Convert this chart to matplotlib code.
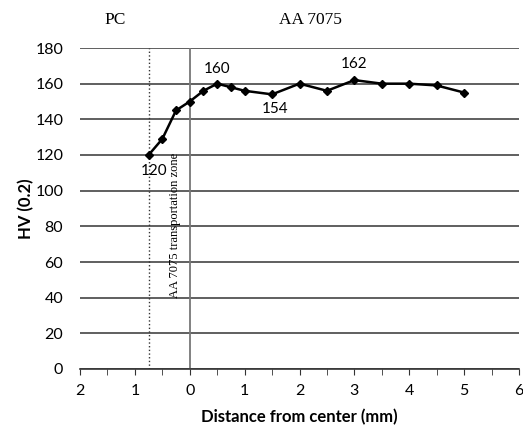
import matplotlib.pyplot as plt
from matplotlib.ticker import FuncFormatter, MultipleLocator

# distance from center (mm), negative side = PC
distance = [-0.75, -0.5, -0.25, 0, 0.25, 0.5, 0.75, 1, 1.5, 2, 2.5, 3, 3.5, 4, 4.5, 5]
hardness = [120, 129, 145, 150, 156, 160, 158, 156, 154, 160, 156, 162, 160, 160, 159, 155]

# labelled points: (index, label, offset in px)
labels = [(0, "120", (6, -16)), (5, "160", (0, 15)), (8, "154", (3, -15)), (11, "162", (0, 16))]

sans = "Lato"
serif = "Liberation Serif"

fig = plt.figure(figsize=(5.23, 4.33), dpi=100)
ax = fig.add_axes([80 / 523, 1 - 369 / 433, 439 / 523, 321 / 433])

ax.set_xlim(-2, 6)
ax.set_ylim(0, 180)

# horizontal grid like the excel chart
ax.yaxis.set_major_locator(MultipleLocator(20))
ax.grid(axis="y", color="#444444", linewidth=1.2)
ax.set_axisbelow(True)

for s in ["top", "right", "left"]:
    ax.spines[s].set_visible(False)
ax.spines["bottom"].set_color("#333333")
ax.spines["bottom"].set_linewidth(1.2)

ax.xaxis.set_major_locator(MultipleLocator(1))
ax.xaxis.set_minor_locator(MultipleLocator(0.5))
ax.xaxis.set_major_formatter(FuncFormatter(lambda v, p: "%d" % abs(v)))
ax.tick_params(axis="x", which="both", direction="out", length=4, color="#333333",
               labelsize=11.5, pad=7)
ax.tick_params(axis="y", length=0, labelsize=11.5, pad=12)
for t in ax.get_xticklabels() + ax.get_yticklabels():
    t.set_family(sans)

# zone boundaries
ax.axvline(-0.75, color="#333333", linestyle=":", linewidth=1)
ax.axvline(0, color="#777777", linewidth=1.3)

ax.plot(distance, hardness, color="black", linewidth=1.8, marker="D", markersize=4.5)

for i, txt, off in labels:
    ax.annotate(txt, (distance[i], hardness[i]), xytext=(off[0] * 0.72, off[1] * 0.72),
                textcoords="offset points", ha="center", va="center",
                fontsize=11, family=sans)

ax.text(-0.27, 121, "AA 7075 transportation zone", rotation=90, ha="center", va="top",
        fontsize=9, family=serif)

fig.text(115 / 523, 1 - 20 / 433, "PC", ha="center", va="center", fontsize=12.5, family=serif)
fig.text(310 / 523, 1 - 20 / 433, "AA 7075", ha="center", va="center", fontsize=12.5, family=serif)

ax.set_xlabel("Distance from center (mm)", fontsize=12, fontweight="bold", family=sans,
              labelpad=8)
ax.set_ylabel("HV (0.2)", fontsize=12, fontweight="bold", family=sans, labelpad=1)

fig.savefig("out.png", dpi=100)
